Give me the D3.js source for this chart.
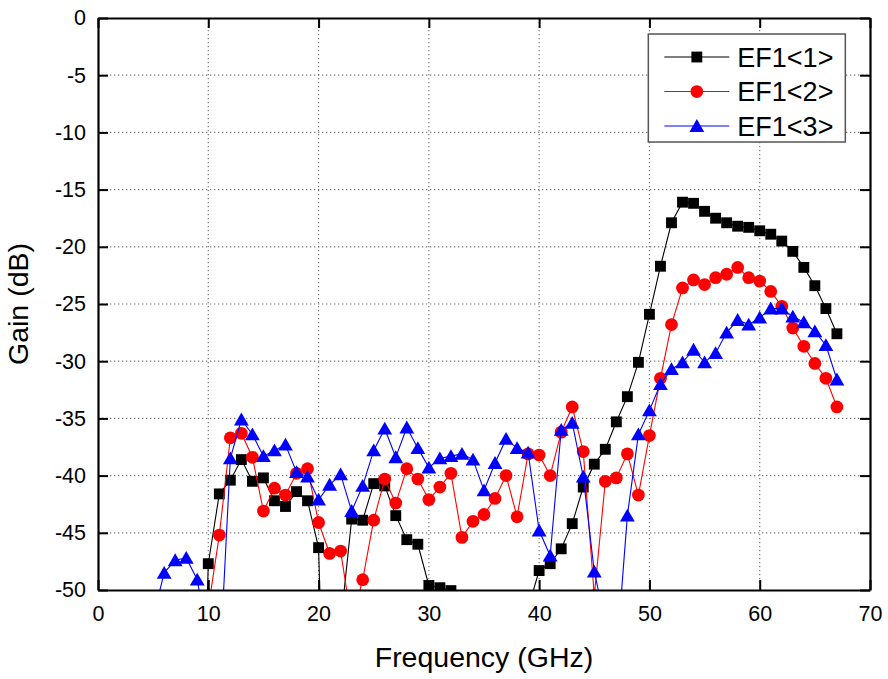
<!DOCTYPE html>
<html>
<head>
<meta charset="utf-8">
<script src="https://cdn.jsdelivr.net/npm/d3@7"></script>
<style>
  html, body { margin: 0; padding: 0; background: #fff; }
  svg { display: block; font-family: "Liberation Sans", Arial, sans-serif; }
</style>
</head>
<body>
<svg id="chart" width="888" height="679"></svg>
<script>
// Measured gain (dB) versus frequency (GHz) for the three EF1 channels.
const freq1 = [9,10,11,12,13,14,15,16,17,18,19,20,21,22,23,24,25,26,27,28,29,30,31,32,33,34,35,36,37,38,39,40,41,42,43,44,45,46,47,48,49,50,51,52,53,54,55,56,57,58,59,60,61,62,63,64,65,66,67];
const gain1 = [-80,-47.7,-41.6,-40.4,-38.6,-40.5,-40.2,-42.2,-42.7,-41.4,-42.2,-46.3,-80,-53,-43.8,-43.9,-40.7,-40.9,-43.5,-45.6,-46.0,-49.6,-49.8,-50.05,-56,-58,-60,-60,-58,-56,-51.6,-48.3,-47.7,-46.4,-44.2,-41.0,-39.0,-37.7,-35.3,-33.1,-30.1,-25.9,-21.7,-17.9,-16.1,-16.2,-16.9,-17.5,-17.9,-18.2,-18.3,-18.6,-18.9,-19.5,-20.4,-21.8,-23.4,-25.4,-27.6];

const freq2 = [10,11,12,13,14,15,16,17,18,19,20,21,22,23,24,25,26,27,28,29,30,31,32,33,34,35,36,37,38,39,40,41,42,43,44,45,46,47,48,49,50,51,52,53,54,55,56,57,58,59,60,61,62,63,64,65,66,67];
const gain2 = [-51.6,-45.2,-36.7,-36.3,-38.4,-43.1,-41.1,-41.7,-39.8,-39.4,-44.1,-46.8,-46.6,-52.8,-49.1,-43.9,-40.3,-42.4,-39.4,-40.3,-42.1,-41.0,-39.8,-45.4,-44.0,-43.4,-42.0,-40.0,-43.6,-38.1,-38.2,-40.0,-36.2,-34.0,-37.9,-50.5,-40.5,-40.2,-38.1,-41.7,-36.5,-31.5,-26.8,-23.6,-22.9,-23.3,-22.7,-22.4,-21.8,-22.7,-23.0,-23.9,-25.2,-27.1,-28.7,-30.2,-31.5,-34.0];

const freq3 = [5,6,7,8,9,10,11,12,13,14,15,16,17,18,19,20,21,22,23,24,25,26,27,28,29,30,31,32,33,34,35,36,37,38,39,40,41,42,43,44,45,46,47,48,49,50,51,52,53,54,55,56,57,58,59,60,61,62,63,64,65,66,67];
const gain3 = [-52.4,-48.5,-47.4,-47.2,-49.1,-54.8,-57.4,-38.5,-35.1,-36.4,-38.3,-37.8,-37.3,-39.7,-40.1,-42.1,-40.8,-39.9,-43.1,-40.9,-37.8,-35.9,-38.4,-35.8,-37.6,-39.3,-38.5,-38.3,-38.1,-38.6,-41.3,-38.9,-36.8,-37.6,-38.0,-44.8,-47.0,-36.0,-35.4,-40.1,-48.4,-52.8,-56.0,-43.5,-36.4,-34.3,-32.0,-30.7,-30.1,-29.0,-30.1,-29.3,-27.5,-26.4,-26.8,-26.2,-25.4,-25.4,-26.1,-26.6,-27.4,-28.6,-31.6];

const seriesNames = ["EF1<1>", "EF1<2>", "EF1<3>"];
const seriesColors = ["#000000", "#ff0000", "#0000ff"];
const seriesSymbols = ["square", "circle", "triangle"];

const xTicks = [0, 10, 20, 30, 40, 50, 60, 70];
const yTicks = [0, -5, -10, -15, -20, -25, -30, -35, -40, -45, -50];
const xTitle = "Frequency (GHz)";
const yTitle = "Gain (dB)";

const series = [
  { name: seriesNames[0], color: seriesColors[0], symbol: seriesSymbols[0], pts: freq1.map((f, i) => [f, gain1[i]]) },
  { name: seriesNames[1], color: seriesColors[1], symbol: seriesSymbols[1], pts: freq2.map((f, i) => [f, gain2[i]]) },
  { name: seriesNames[2], color: seriesColors[2], symbol: seriesSymbols[2], pts: freq3.map((f, i) => [f, gain3[i]]) }
];

const svg = d3.select("#chart");
const margin = { left: 98, top: 18, right: 18, bottom: 89 };
const W = 888 - margin.left - margin.right;
const H = 679 - margin.top - margin.bottom;

const x = d3.scaleLinear().domain([0, 70]).range([0, W]);
const y = d3.scaleLinear().domain([-50, 0]).range([H, 0]);

const g = svg.append("g").attr("transform", `translate(${margin.left},${margin.top})`);

// dotted grid at the major ticks
const grid = g.append("g").attr("stroke", "#7a7a7a").attr("stroke-width", 1.2).attr("stroke-dasharray", "1.3,2.7");
grid.selectAll("line.gx").data(xTicks.slice(1, -1)).join("line")
  .attr("x1", d => x(d)).attr("x2", d => x(d)).attr("y1", 0).attr("y2", H);
grid.selectAll("line.gy").data(yTicks.slice(1, -1)).join("line")
  .attr("x1", 0).attr("x2", W).attr("y1", d => y(d)).attr("y2", d => y(d));

// series, clipped to the plot box
svg.append("defs").append("clipPath").attr("id", "plotClip")
  .append("rect").attr("x", 0).attr("y", 0).attr("width", W).attr("height", H);

const plot = g.append("g").attr("clip-path", "url(#plotClip)");
const line = d3.line().x(d => x(d[0])).y(d => y(d[1]));

const symbolType = { square: d3.symbolSquare, circle: d3.symbolCircle, triangle: d3.symbolTriangle };
const symbolSize = { square: 118, circle: 128, triangle: 95 };
const symbolShift = { square: 0, circle: 0, triangle: 1.6 };

series.forEach(s => {
  plot.append("path").datum(s.pts)
    .attr("fill", "none").attr("stroke", s.color).attr("stroke-width", 1.1)
    .attr("d", line);
  const sym = d3.symbol().type(symbolType[s.symbol]).size(symbolSize[s.symbol]);
  plot.append("g").selectAll("path").data(s.pts).join("path")
    .attr("transform", d => `translate(${x(d[0])},${y(d[1]) + symbolShift[s.symbol]})`)
    .attr("d", sym())
    .attr("fill", s.color);
});

// axes with inward ticks on all four sides
const fmt = d => String(d);
const ax = g.append("g").attr("transform", `translate(0,${H})`)
  .call(d3.axisBottom(x).tickValues(xTicks).tickFormat(fmt).tickSize(-10).tickSizeOuter(0).tickPadding(16));
const ay = g.append("g")
  .call(d3.axisLeft(y).tickValues(yTicks).tickFormat(fmt).tickSize(-10).tickSizeOuter(0).tickPadding(12));
const at = g.append("g")
  .call(d3.axisTop(x).tickValues(xTicks).tickFormat("").tickSize(-10).tickSizeOuter(0));
const ar = g.append("g").attr("transform", `translate(${W},0)`)
  .call(d3.axisRight(y).tickValues(yTicks).tickFormat("").tickSize(-10).tickSizeOuter(0));

[ax, ay, at, ar].forEach(a => {
  a.select(".domain").attr("stroke", "#000").attr("stroke-width", 2.2);
  a.selectAll(".tick line").attr("stroke", "#000").attr("stroke-width", 2);
  a.selectAll(".tick text").attr("fill", "#000").attr("font-size", 21.5)
    .attr("font-family", "'Liberation Sans', Arial, sans-serif");
});

// axis titles
g.append("text").attr("x", W / 2).attr("y", H + 77)
  .attr("text-anchor", "middle").attr("font-size", 28.5).attr("fill", "#000")
  .text(xTitle);
g.append("text").attr("transform", `translate(${-70},${H / 2}) rotate(-90)`)
  .attr("text-anchor", "middle").attr("font-size", 28.5).attr("fill", "#000")
  .text(yTitle);

// legend
const lg = g.append("g").attr("transform", `translate(${x(49.9)},${y(-1.4)})`);
lg.append("rect").attr("x", 0).attr("y", 0).attr("width", 197).attr("height", 108)
  .attr("fill", "#fff").attr("stroke", "#555").attr("stroke-width", 1.5);
series.forEach((s, i) => {
  const cy = 23 + i * 34.5;
  lg.append("line").attr("x1", 16).attr("x2", 81).attr("y1", cy).attr("y2", cy)
    .attr("stroke", s.color).attr("stroke-width", 1.1);
  lg.append("path")
    .attr("transform", `translate(48.5,${cy + symbolShift[s.symbol]})`)
    .attr("d", d3.symbol().type(symbolType[s.symbol]).size(symbolSize[s.symbol])())
    .attr("fill", s.color);
  lg.append("text").attr("x", 89).attr("y", cy).attr("dy", "0.36em")
    .attr("font-size", 27).attr("fill", "#000").text(s.name);
});
</script>
</body>
</html>
